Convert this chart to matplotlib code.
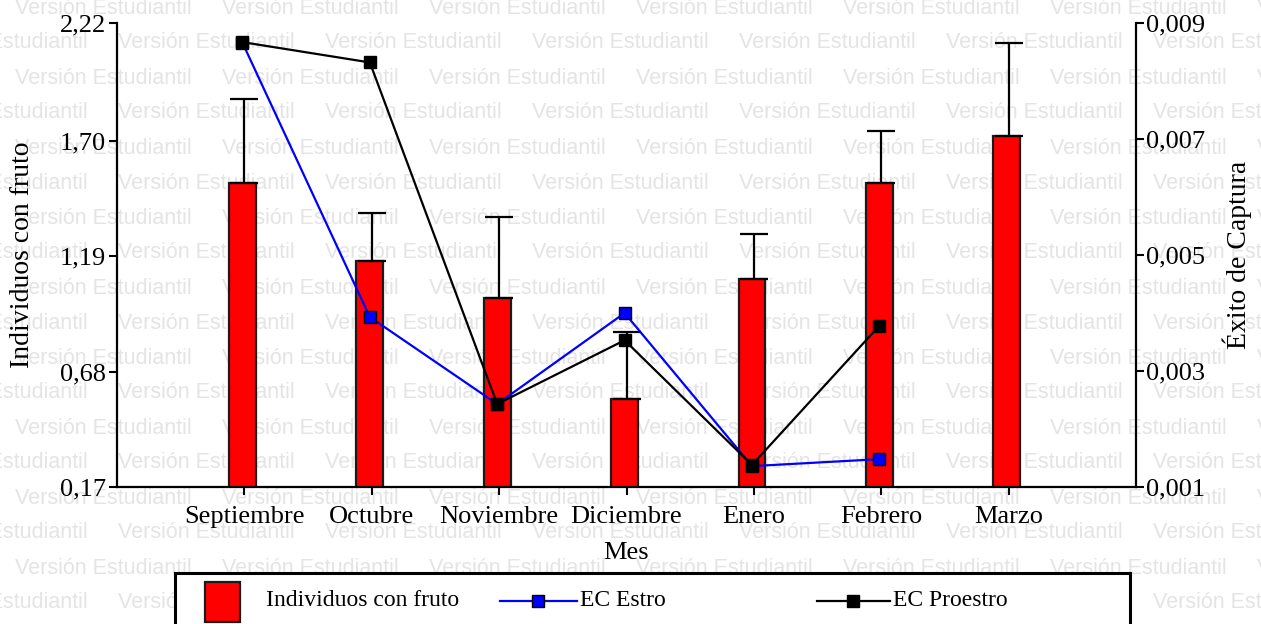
import numpy as np
import matplotlib
matplotlib.use('Agg')
import matplotlib.pyplot as plt
from matplotlib.patches import Rectangle
from matplotlib.lines import Line2D

# ---------------- data ----------------
months = ['Septiembre', 'Octubre', 'Noviembre', 'Diciembre', 'Enero', 'Febrero', 'Marzo']
fruto = [1.512, 1.170, 1.006, 0.558, 1.089, 1.512, 1.721]
fruto_err = [0.371, 0.209, 0.356, 0.298, 0.198, 0.232, 0.410]
ec_estro = [0.00866, 0.00393, 0.00243, 0.00400, 0.00136, 0.00148, np.nan]
ec_proestro = [0.00867, 0.00832, 0.00243, 0.00353, 0.00138, 0.00378, np.nan]

left_ticks = [0.17, 0.68, 1.19, 1.70, 2.22]
left_ticklabels = ['0,17', '0,68', '1,19', '1,70', '2,22']
right_ticks = [0.001, 0.003, 0.005, 0.007, 0.009]
right_ticklabels = ['0,001', '0,003', '0,005', '0,007', '0,009']

labels_legend = ['Individuos con fruto', 'EC Estro', 'EC Proestro']
watermark = 'Versión Estudiantil'

# ---------------- style ----------------
SERIF = ['Liberation Serif', 'DejaVu Serif']
plt.rcParams['font.family'] = SERIF
W, H = 1261, 624
fig = plt.figure(figsize=(W / 100, H / 100), dpi=100)

# watermark (behind everything)
for r in range(18):
    y = 8 + 35 * r
    x0 = 15 if r % 2 == 0 else -89
    for k in range(8):
        xx = x0 + 207 * k
        if xx > W:
            break
        fig.text(xx / W, 1 - y / H, watermark, fontsize=15.5, color='#e4e4e4',
                 family=['Liberation Sans', 'DejaVu Sans'], ha='left', va='center',
                 zorder=-5)

ax = fig.add_axes([117 / W, 1 - 487 / H, (1136 - 117) / W, (487 - 23) / H])
ax.patch.set_visible(False)
x = np.arange(len(months))

ax.bar(x - 0.015, fruto, width=0.21, color='#ff0000', edgecolor='#1a1a1a',
       linewidth=1.6, zorder=2)
ax.errorbar(x, fruto, yerr=[np.zeros(len(x)), fruto_err], fmt='none',
            ecolor='black', elinewidth=1.6, capsize=10, capthick=1.6, zorder=3)

ax.set_xlim(-1, 7)
ax.set_ylim(0.17, 2.22)
ax.set_yticks(left_ticks)
ax.set_yticklabels(left_ticklabels)
ax.set_xticks(x)
ax.set_xticklabels(months)
ax.tick_params(axis='both', direction='out', length=6, width=1.5,
               labelsize=19, colors='black')
ax.tick_params(axis='y', pad=2)
ax.tick_params(axis='x', pad=8)
for s in ['top', 'right']:
    ax.spines[s].set_visible(False)
for s in ['left', 'bottom']:
    ax.spines[s].set_linewidth(1.6)

ax.set_ylabel('Individuos con fruto', fontsize=20, va='center')
ax.yaxis.set_label_coords(-0.093, 0.5)
ax.set_xlabel('Mes', fontsize=19, va='center')
ax.xaxis.set_label_coords(0.5, -0.142)

ax2 = ax.twinx()
ax2.patch.set_visible(False)
ax2.plot(x - 0.015, ec_estro, color='#0000ff', lw=1.6, marker='s', ms=8,
         mfc='#0000ff', mec='black', mew=1, zorder=3)
ax2.plot(x - 0.015, ec_proestro, color='black', lw=1.6, marker='s', ms=8.5,
         mfc='black', mec='black', mew=1, zorder=4)
ax2.set_ylim(0.001, 0.009)
ax2.set_yticks(right_ticks)
ax2.set_yticklabels(right_ticklabels)
ax2.tick_params(axis='y', direction='out', length=6, width=1.5, labelsize=19, pad=1)
for s in ['top', 'left', 'bottom']:
    ax2.spines[s].set_visible(False)
ax2.spines['right'].set_linewidth(1.6)
ax2.set_ylabel('Éxito de Captura', fontsize=20, va='center', rotation=90)
ax2.yaxis.set_label_coords(1.099, 0.5)

# ---------------- legend box ----------------
lax = fig.add_axes([175 / W, -12 / H, (1130 - 175) / W, 63 / H])
lax.set_xlim(175, 1130)
lax.set_ylim(636, 573)
lax.set_xticks([])
lax.set_yticks([])
lax.patch.set_facecolor('white')
for s in lax.spines.values():
    s.set_linewidth(2.2)
    s.set_color('black')
lax.add_patch(Rectangle((205, 582), 35, 40, facecolor='#ff0000',
                        edgecolor='#1a1a1a', lw=1.6))
lax.text(266, 601, labels_legend[0], fontsize=17, va='center', ha='left')
lax.add_line(Line2D([500, 577], [601, 601], color='#0000ff', lw=1.6))
lax.add_line(Line2D([538], [601], marker='s', ms=8, mfc='#0000ff', mec='black', mew=1))
lax.text(580, 601, labels_legend[1], fontsize=17, va='center', ha='left')
lax.add_line(Line2D([817, 890], [601, 601], color='black', lw=1.6))
lax.add_line(Line2D([853], [601], marker='s', ms=8.5, mfc='black', mec='black'))
lax.text(893, 601, labels_legend[2], fontsize=17, va='center', ha='left')

fig.savefig('out.png', dpi=100)
